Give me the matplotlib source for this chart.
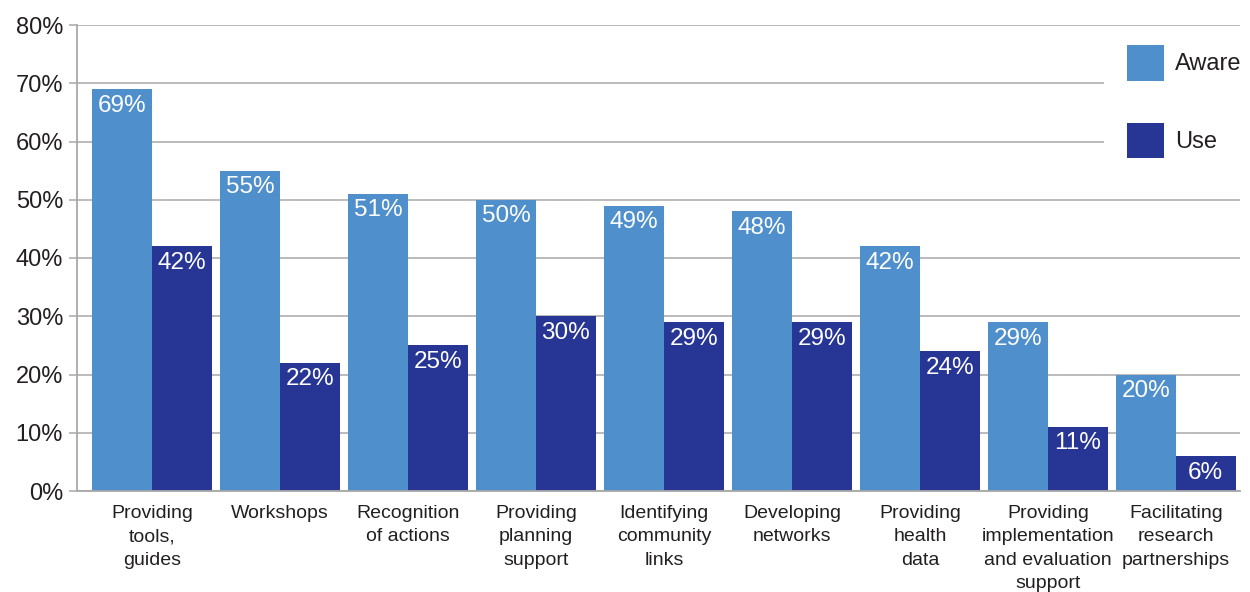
import matplotlib.pyplot as plt
from matplotlib.patches import Rectangle
import numpy as np

plt.rcParams['font.family'] = ['Liberation Sans', 'DejaVu Sans']

categories = [
    "Providing\ntools,\nguides",
    "Workshops",
    "Recognition\nof actions",
    "Providing\nplanning\nsupport",
    "Identifying\ncommunity\nlinks",
    "Developing\nnetworks",
    "Providing\nhealth\ndata",
    "Providing\nimplementation\nand evaluation\nsupport",
    "Facilitating\nresearch\npartnerships",
]
aware = [69, 55, 51, 50, 49, 48, 42, 29, 20]
use = [42, 22, 25, 30, 29, 29, 24, 11, 6]
yticks = [0, 10, 20, 30, 40, 50, 60, 70, 80]

AWARE_COLOR = '#4F8FCC'
USE_COLOR = '#273594'
TEXT_COLOR = '#231F20'
GRID_COLOR = '#A8A8A8'

fig = plt.figure(figsize=(12.5, 5.92), dpi=100)
ax = fig.add_axes([77 / 1250, 1 - 491 / 592, (1240 - 77) / 1250, (491 - 25) / 592])

x = np.arange(len(categories))
w = 0.465
bars_aware = ax.bar(x - w / 2, aware, width=w, color=AWARE_COLOR, label='Aware', zorder=2)
bars_use = ax.bar(x + w / 2, use, width=w, color=USE_COLOR, label='Use', zorder=2)

# value labels sit inside the top of each bar
for bars, vals in ((bars_aware, aware), (bars_use, use)):
    for b, v in zip(bars, vals):
        ax.annotate(f"{v}%", (b.get_x() + b.get_width() / 2, v),
                    xytext=(0, -4), textcoords='offset points',
                    ha='center', va='top', color='white', fontsize=17.5, zorder=3)

ax.set_xlim(-0.586, 8.5)
ax.set_ylim(0, 80)
ax.set_yticks(yticks)
ax.set_yticklabels([f"{t}%" for t in yticks])
ax.set_xticks(x)
ax.set_xticklabels(categories, fontsize=14, color=TEXT_COLOR, linespacing=1.5)

ax.tick_params(axis='x', length=0, pad=10)
ax.tick_params(axis='y', length=6, width=1.1, color=GRID_COLOR, pad=4,
               labelsize=17, labelcolor=TEXT_COLOR)

ax.yaxis.grid(True, color=GRID_COLOR, linewidth=1.1)
ax.set_axisbelow(True)
for side in ('top', 'right'):
    ax.spines[side].set_visible(False)
for side in ('left', 'bottom'):
    ax.spines[side].set_color(GRID_COLOR)
    ax.spines[side].set_linewidth(1.3)

# white panel behind the legend hides the grid there
ax.add_patch(Rectangle(((1104 - 77) / 1163, 55 / 80), 1.0, 23 / 80,
                       transform=ax.transAxes, facecolor='white',
                       edgecolor='none', zorder=1, clip_on=False))

fig.legend(loc='upper left', bbox_to_anchor=(1127 / 1250, 1 - 45 / 592),
           frameon=False, fontsize=17, handlelength=1.57, handleheight=1.94,
           handletextpad=0.47, labelspacing=1.78, borderpad=0,
           borderaxespad=0, labelcolor=TEXT_COLOR)

fig.savefig('out.png', dpi=100)
